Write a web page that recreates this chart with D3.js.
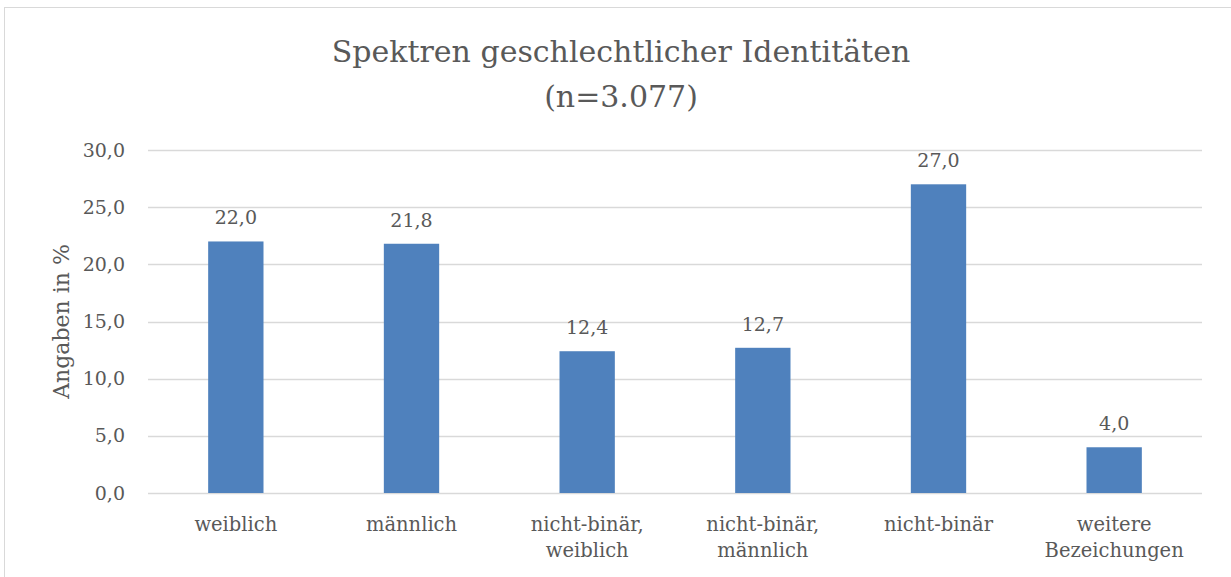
<!DOCTYPE html>
<html>
<head>
<meta charset="utf-8">
<script src="https://cdn.jsdelivr.net/npm/d3@7"></script>
<style>
  body { margin: 0; background: #fff; }
  svg text { font-family: "DejaVu Serif", "Liberation Serif", serif; fill: #595959; }
</style>
</head>
<body>
<div id="chart"></div>
<script>
// data
var categories = [["weiblich"], ["männlich"], ["nicht-binär,", "weiblich"], ["nicht-binär,", "männlich"], ["nicht-binär"], ["weitere", "Bezeichungen"]];
var values = [22.0, 21.8, 12.4, 12.7, 27.0, 4.0];
var yTicks = [0, 5, 10, 15, 20, 25, 30];

var W = 1231, H = 577;
var margin = {top: 150, right: 29, bottom: 84, left: 148},
    width = W - margin.left - margin.right,
    height = H - margin.top - margin.bottom;

var fmt = function(v) { return d3.format(".1f")(v).replace(".", ","); };

var root = d3.select("#chart")
  .append("svg")
  .attr("width", W)
  .attr("height", H);

// chart frame
root.append("rect")
  .attr("x", 4.5).attr("y", 7.5)
  .attr("width", W + 10).attr("height", H + 10)
  .attr("fill", "none")
  .attr("stroke", "#d9d9d9")
  .attr("stroke-width", 1);

// title
root.append("text")
  .attr("x", 621).attr("y", 62)
  .attr("text-anchor", "middle")
  .style("font-size", "30px")
  .text("Spektren geschlechtlicher Identitäten");
root.append("text")
  .attr("x", 621).attr("y", 107)
  .attr("text-anchor", "middle")
  .style("font-size", "30px")
  .text("(n=3.077)");

var svg = root.append("g")
  .attr("transform", "translate(" + margin.left + "," + margin.top + ")");

var x = d3.scaleBand()
  .domain(d3.range(categories.length))
  .range([0, width])
  .paddingInner(0.685)
  .paddingOuter(0.3425);

var y = d3.scaleLinear()
  .domain([0, 30])
  .range([height, 0]);

// gridlines
svg.append("g")
  .selectAll("line")
  .data(yTicks)
  .enter()
  .append("line")
    .attr("x1", 0).attr("x2", width)
    .attr("y1", function(d) { return Math.round(y(d)) + 0.5; })
    .attr("y2", function(d) { return Math.round(y(d)) + 0.5; })
    .attr("stroke", "#d9d9d9")
    .attr("stroke-width", 1.3);

// y axis labels
var yAxis = svg.append("g")
  .call(d3.axisLeft(y).tickValues(yTicks).tickFormat(fmt).tickSize(0).tickPadding(23))
  .style("font-family", null)
  .style("font-size", "19px");
yAxis.select(".domain").remove();
yAxis.selectAll("text").attr("fill", "#595959");

// y axis title
svg.append("text")
  .attr("transform", "rotate(-90)")
  .attr("x", -height / 2)
  .attr("y", -79)
  .attr("text-anchor", "middle")
  .style("font-size", "22px")
  .text("Angaben in %");

// bars
svg.selectAll(".bar")
  .data(values)
  .enter()
  .append("rect")
    .attr("class", "bar")
    .attr("x", function(d, i) { return x(i); })
    .attr("y", function(d) { return y(d); })
    .attr("width", x.bandwidth())
    .attr("height", function(d) { return height - y(d); })
    .attr("fill", "#4f81bd");

// value labels
svg.selectAll(".val")
  .data(values)
  .enter()
  .append("text")
    .attr("class", "val")
    .attr("x", function(d, i) { return x(i) + x.bandwidth() / 2; })
    .attr("y", function(d) { return y(d) - 17; })
    .attr("text-anchor", "middle")
    .style("font-size", "19px")
    .text(fmt);

// category labels
svg.selectAll(".cat")
  .data(categories)
  .enter()
  .append("text")
    .attr("class", "cat")
    .attr("x", function(d, i) { return x(i) + x.bandwidth() / 2; })
    .attr("y", height + 38)
    .attr("text-anchor", "middle")
    .style("font-size", "19.5px")
    .selectAll("tspan")
    .data(function(d) { return d; })
    .enter()
    .append("tspan")
      .attr("x", function() { return this.parentNode.getAttribute("x"); })
      .attr("dy", function(d, j) { return j === 0 ? 0 : 26; })
      .text(function(d) { return d; });
</script>
</body>
</html>
